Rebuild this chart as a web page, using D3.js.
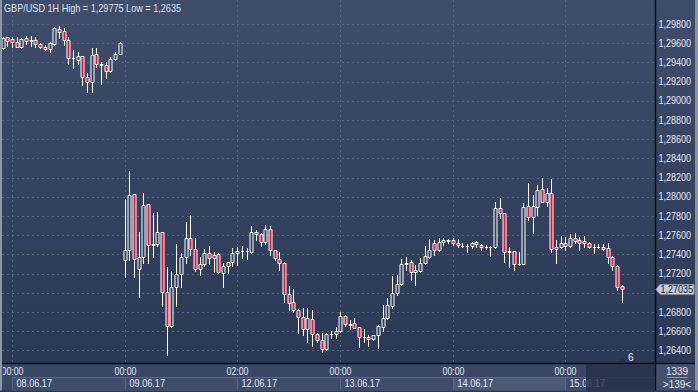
<!DOCTYPE html>
<html><head><meta charset="utf-8">
<script src="https://cdn.jsdelivr.net/npm/d3@7"></script>
<style>html,body{margin:0;padding:0;background:#35425f;overflow:hidden}svg{display:block}</style>
</head><body>
<svg id="chart" width="698" height="392"></svg>
<script>
// ---- DATA (GBP/USD 1H, bar index 0 = 08.06.17 00:00) ----
const firstBarIndex = -2;
const opens = [1.29550,1.29668,1.29641,1.29609,1.29564,1.29651,1.29628,1.29633,1.29589,1.29564,1.29540,1.29595,1.29753,1.29727,1.29633,1.29443,1.29422,1.29464,1.29248,1.29193,1.29484,1.29380,1.29375,1.29310,1.29432,1.29488,
1.27342,1.27446,1.28026,1.27245,1.27370,1.27922,1.27498,1.27505,1.27630,1.27011,1.26654,1.27064,1.27193,1.27370,1.27568,1.27453,1.27245,1.27297,1.27411,1.27359,1.27401,1.27209,1.27279,1.27318,
1.27411,1.27435,1.27438,1.27428,1.27636,1.27609,1.27532,1.27661,1.27446,1.27349,1.27313,1.26984,1.26901,1.26821,1.26745,1.26620,1.26727,1.26568,1.26508,1.26411,1.26568,1.26571,
1.26602,1.26761,1.26679,1.26689,1.26647,1.26536,1.26543,1.26515,1.26557,1.26647,1.26734,1.26862,1.26995,1.27089,1.27297,1.27318,1.27214,1.27231,1.27307,1.27376,1.27516,1.27446,1.27526,1.27543,
1.27550,1.27519,1.27487,1.27485,1.27487,1.27529,1.27501,1.27480,1.27478,1.27480,1.27880,1.27828,1.27428,1.27432,1.27297,1.27297,1.27904,1.27786,1.27897,1.28078,1.27949,1.28036,1.27453,1.27480,
1.27516,1.27487,1.27568,1.27550,1.27540,1.27516,1.27478,1.27480,1.27480,1.27464,1.27370,1.27282,1.27068];
const highs = [1.29665,1.29668,1.29668,1.29661,1.29651,1.29675,1.29678,1.29661,1.29602,1.29581,1.29609,1.29764,1.29775,1.29761,1.29668,1.29529,1.29505,1.29470,1.29286,1.29553,1.29547,1.29407,1.29407,1.29456,1.29508,1.29613,
1.27974,1.28269,1.28030,1.27636,1.28036,1.27925,1.27828,1.27839,1.27635,1.27266,1.27227,1.27508,1.27411,1.27734,1.27810,1.27568,1.27376,1.27453,1.27487,1.27428,1.27411,1.27307,1.27324,1.27464,
1.27480,1.27487,1.27467,1.27696,1.27654,1.27620,1.27706,1.27696,1.27446,1.27425,1.27324,1.27071,1.27036,1.26831,1.26838,1.26838,1.26821,1.26584,1.26578,1.26584,1.26602,1.26647,
1.26797,1.26768,1.26717,1.26734,1.26647,1.26620,1.26560,1.26560,1.26665,1.26873,1.26943,1.27175,1.27185,1.27349,1.27370,1.27342,1.27290,1.27359,1.27487,1.27557,1.27550,1.27568,1.27568,1.27560,
1.27574,1.27557,1.27516,1.27508,1.27532,1.27543,1.27508,1.27498,1.27487,1.27949,1.27984,1.27828,1.27474,1.27435,1.27428,1.27932,1.28141,1.28019,1.28123,1.28193,1.28089,1.28182,1.27550,1.27595,
1.27584,1.27612,1.27620,1.27584,1.27591,1.27532,1.27508,1.27508,1.27508,1.27516,1.27383,1.27290,1.27081];
const lows = [1.29540,1.29574,1.29564,1.29557,1.29550,1.29589,1.29574,1.29557,1.29550,1.29529,1.29511,1.29586,1.29651,1.29581,1.29380,1.29339,1.29380,1.29165,1.29089,1.29089,1.29355,1.29172,1.29234,1.29300,1.29420,1.29483,
1.27168,1.27342,1.27168,1.26959,1.27307,1.27307,1.27376,1.27491,1.26866,1.26350,1.26647,1.26866,1.27064,1.27313,1.27394,1.27227,1.27185,1.27279,1.27297,1.27220,1.27209,1.27064,1.27203,1.27279,
1.27290,1.27359,1.27349,1.27418,1.27550,1.27487,1.27508,1.27394,1.27342,1.27237,1.26907,1.26821,1.26803,1.26584,1.26560,1.26491,1.26446,1.26491,1.26386,1.26404,1.26526,1.26526,
1.26595,1.26654,1.26620,1.26636,1.26438,1.26491,1.26449,1.26508,1.26422,1.26605,1.26724,1.26838,1.26977,1.27082,1.27237,1.27133,1.27081,1.27220,1.27297,1.27366,1.27394,1.27439,1.27498,1.27522,
1.27498,1.27480,1.27477,1.27428,1.27464,1.27474,1.27446,1.27456,1.27386,1.27470,1.27776,1.27324,1.27266,1.27237,1.27290,1.27297,1.27758,1.27626,1.27810,1.27949,1.27904,1.27428,1.27307,1.27464,
1.27446,1.27480,1.27516,1.27446,1.27474,1.27464,1.27411,1.27470,1.27446,1.27313,1.27237,1.27029,1.26907];
const closes = [1.29654,1.29623,1.29616,1.29557,1.29641,1.29623,1.29636,1.29592,1.29564,1.29540,1.29602,1.29755,1.29714,1.29633,1.29443,1.29448,1.29464,1.29248,1.29193,1.29477,1.29380,1.29375,1.29310,1.29432,1.29488,1.29602,
1.27446,1.28019,1.27349,1.27370,1.27911,1.27498,1.27505,1.27630,1.27008,1.26654,1.27064,1.27193,1.27370,1.27568,1.27453,1.27245,1.27297,1.27411,1.27359,1.27391,1.27220,1.27279,1.27318,1.27411,
1.27435,1.27438,1.27435,1.27636,1.27609,1.27532,1.27661,1.27446,1.27359,1.27307,1.26984,1.26891,1.26821,1.26745,1.26620,1.26734,1.26568,1.26508,1.26411,1.26568,1.26573,1.26602,
1.26761,1.26672,1.26665,1.26636,1.26536,1.26540,1.26519,1.26560,1.26654,1.26734,1.26873,1.26995,1.27092,1.27297,1.27307,1.27214,1.27237,1.27307,1.27383,1.27446,1.27446,1.27532,1.27550,1.27546,
1.27516,1.27495,1.27485,1.27488,1.27516,1.27508,1.27474,1.27478,1.27482,1.27880,1.27828,1.27428,1.27432,1.27297,1.27299,1.27891,1.27786,1.27904,1.28071,1.27949,1.28036,1.27453,1.27480,1.27516,
1.27487,1.27568,1.27543,1.27522,1.27516,1.27474,1.27480,1.27478,1.27456,1.27370,1.27282,1.27064,1.27035];

const priceTicks = [1.298,1.296,1.294,1.292,1.290,1.288,1.286,1.284,1.282,1.280,1.278,1.276,1.274,1.272,1.270,1.268,1.266,1.264];
const timeTickBars = [0, 24, 48, 70, 94, 118];
const timeTickLabels = ["00:00","00:00","02:00","00:00","00:00","00:00"];
const dateLabels = ["08.06.17","09.06.17","12.06.17","13.06.17","14.06.17","15.06.17"];
const titleText = "GBP/USD 1H High = 1,29775 Low = 1,2635";
const lastPrice = 1.27035;
const barsCountText = "1339";
const visibleText = ">139<";
const scrollText = "6";

// ---- LAYOUT ----
const W = 698, H = 392;
const plotL = 2, plotR = 655, plotT = 0, plotB = 363;
const svg = d3.select("#chart");
const fmt = v => v.toFixed(5).replace(".", ",");

const x = d3.scaleLinear().domain([0, 130]).range([12, 12 + 4.69 * 130]);
const y = d3.scaleLinear().domain([1.264, 1.298]).range([350.4, 24]);

const defs = svg.append("defs");
const grad = defs.append("linearGradient").attr("id","bg").attr("x1",0).attr("y1",0).attr("x2",0).attr("y2",1);
grad.append("stop").attr("offset","0%").attr("stop-color","#3f4d6b");
grad.append("stop").attr("offset","100%").attr("stop-color","#2c3955");
defs.append("clipPath").attr("id","plotclip").append("rect")
  .attr("x",plotL).attr("y",plotT).attr("width",plotR-plotL).attr("height",plotB-plotT);
defs.append("clipPath").attr("id","axisclip").append("rect")
  .attr("x",3).attr("y",plotB).attr("width",plotR-3).attr("height",H-plotB);

// backgrounds
svg.append("rect").attr("x",0).attr("y",0).attr("width",W).attr("height",plotB).attr("fill","url(#bg)");
svg.append("rect").attr("x",0).attr("y",plotB).attr("width",W).attr("height",H-plotB).attr("fill","#3a4765");

// grid
const grid = svg.append("g").attr("stroke","#56637f").attr("stroke-width",1).attr("stroke-dasharray","2,3");
grid.selectAll("line.h").data(priceTicks).join("line")
  .attr("x1",plotL).attr("x2",plotR)
  .attr("y1",d=>Math.round(y(d))+0.5).attr("y2",d=>Math.round(y(d))+0.5);
grid.selectAll("line.v").data(timeTickBars).join("line")
  .attr("y1",plotT).attr("y2",plotB)
  .attr("x1",d=>Math.round(x(d))+0.5).attr("x2",d=>Math.round(x(d))+0.5);

// candles
const bars = opens.map((o,i)=>({k:i+firstBarIndex,o,h:highs[i],l:lows[i],c:closes[i]}));
const cg = svg.append("g").attr("clip-path","url(#plotclip)");
const candle = cg.selectAll("g.c").data(bars).join("g");
candle.append("line")
  .attr("x1",d=>Math.round(x(d.k))+0.5).attr("x2",d=>Math.round(x(d.k))+0.5)
  .attr("y1",d=>Math.round(y(d.h))).attr("y2",d=>Math.round(y(d.l))+1)
  .attr("stroke","#ffffff").attr("stroke-width",1);
candle.append("path")
  .attr("d",d=>{
    const cx = Math.round(x(d.k))+0.5;
    const t = Math.round(y(Math.max(d.o,d.c)))+0.5;
    const b = Math.round(y(Math.min(d.o,d.c)))+0.5;
    return `M${cx-1.5},${t}H${cx+1.5}V${b}H${cx-1.5}Z`;
  })
  .attr("fill",d=>d.c<d.o?"#e2143c":"#34415e")
  .attr("stroke","#ffffff").attr("stroke-width",1);

// separator lines
svg.append("line").attr("x1",0).attr("x2",W).attr("y1",plotB+0.5).attr("y2",plotB+0.5).attr("stroke","#070b14").attr("stroke-width",1.5);
svg.append("line").attr("x1",plotR+0.5).attr("x2",plotR+0.5).attr("y1",0).attr("y2",H).attr("stroke","#070b14").attr("stroke-width",1.5);

// title
svg.append("text").attr("x",4).attr("y",12).text(titleText)
  .attr("font-family","Liberation Sans, Arial, sans-serif").attr("font-size",10.5)
  .attr("fill","#dfe4ee").attr("textLength",177).attr("lengthAdjust","spacingAndGlyphs");

// right price axis (the label under the last-price marker is hidden, as in the terminal)
const ly = y(lastPrice);
svg.append("g").selectAll("text").data(priceTicks.filter(d=>Math.abs(y(d)-ly)>9)).join("text")
  .attr("x",658.5).attr("y",d=>y(d)).attr("dy","0.36em").text(fmt)
  .attr("font-family","Liberation Sans, Arial, sans-serif").attr("font-size",10)
  .attr("fill","#e3e8f1").attr("textLength",32.5).attr("lengthAdjust","spacingAndGlyphs");

// last price label
svg.append("path")
  .attr("d",`M656,${ly}L660,${ly-5}H694V${ly+5}H660Z`)
  .attr("fill","#c5cad4").attr("stroke","#8c95a8").attr("stroke-width",1);
svg.append("text").attr("x",660.5).attr("y",ly).attr("dy","0.36em").text(fmt(lastPrice))
  .attr("font-family","Liberation Sans, Arial, sans-serif").attr("font-size",10)
  .attr("fill","#18223a").attr("textLength",32.5).attr("lengthAdjust","spacingAndGlyphs");

// time axis
const ax = svg.append("g").attr("clip-path","url(#axisclip)");
const boxEdges = timeTickBars.map(b=>Math.round(x(b))+0.5);
ax.selectAll("rect.date").data(dateLabels).join("rect")
  .attr("x",(d,i)=>boxEdges[i]).attr("y",377.5)
  .attr("width",(d,i)=>(i<boxEdges.length-1?boxEdges[i+1]:plotR+60)-boxEdges[i]).attr("height",13)
  .attr("fill",(d,i)=>i===4?"#4c5977":"#3f4c6a").attr("stroke","#5a6783").attr("stroke-width",1);
ax.selectAll("text.time").data(timeTickLabels).join("text")
  .attr("x",(d,i)=>boxEdges[i]).attr("y",371.5).attr("dy","0.36em").attr("text-anchor","middle").text(d=>d)
  .attr("font-family","Liberation Sans, Arial, sans-serif").attr("font-size",10)
  .attr("fill","#e3e8f1").attr("textLength",22).attr("lengthAdjust","spacingAndGlyphs");
ax.selectAll("text.date").data(dateLabels).join("text")
  .attr("x",(d,i)=>boxEdges[i]+4).attr("y",383).attr("dy","0.36em").text(d=>d)
  .attr("font-family","Liberation Sans, Arial, sans-serif").attr("font-size",10)
  .attr("fill","#e3e8f1").attr("textLength",35.5).attr("lengthAdjust","spacingAndGlyphs");
// dark overlay (future zone)
svg.append("rect").attr("x",586).attr("y",plotB+1).attr("width",plotR-586).attr("height",H-plotB-2)
  .attr("fill","#243049").attr("opacity",0.82);

// scroll marker
svg.append("path").attr("d","M618,362L622,358L626,362Z").attr("fill","#26324c");
svg.append("text").attr("x",628).attr("y",361).text(scrollText)
  .attr("font-family","Liberation Sans, Arial, sans-serif").attr("font-size",10).attr("fill","#e8edf5");

// bottom-right info box
svg.append("rect").attr("x",656.5).attr("y",364.5).attr("width",38).attr("height",26).attr("fill","#44516e");
svg.append("text").attr("x",677).attr("y",371).attr("dy","0.36em").attr("text-anchor","middle").text(barsCountText)
  .attr("font-family","Liberation Sans, Arial, sans-serif").attr("font-size",10).attr("fill","#e3e8f1");
svg.append("line").attr("x1",667).attr("x2",688).attr("y1",377.5).attr("y2",377.5).attr("stroke","#8d97ab");
svg.append("text").attr("x",677).attr("y",384.5).attr("dy","0.36em").attr("text-anchor","middle").text(visibleText)
  .attr("font-family","Liberation Sans, Arial, sans-serif").attr("font-size",10).attr("fill","#e3e8f1");

// frame
svg.append("rect").attr("x",0).attr("y",0).attr("width",2).attr("height",H).attr("fill","#8f98aa");
svg.append("rect").attr("x",695).attr("y",0).attr("width",3).attr("height",H).attr("fill","#8a93a6");
svg.append("rect").attr("x",0).attr("y",390.5).attr("width",W).attr("height",1.5).attr("fill","#2a3550");
</script>
</body></html>
